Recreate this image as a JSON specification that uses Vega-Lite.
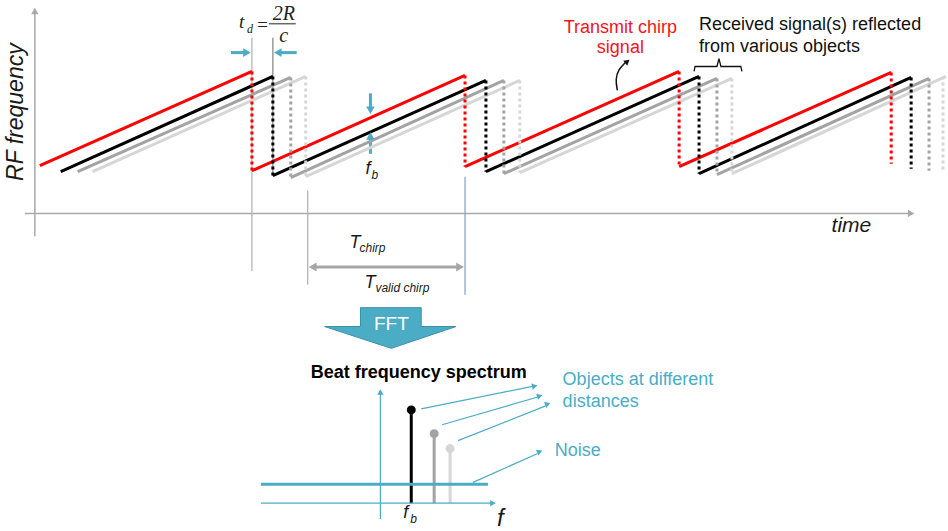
{
  "$schema": "https://vega.github.io/schema/vega-lite/v6.json",
  "width": 948,
  "height": 531,
  "autosize": {"type": "fit", "contains": "padding"},
  "padding": 0,
  "background": "white",
  "config": {"view": {"stroke": null}},
  "datasets": {
    "chirps": [
      {"series": "rx3", "part": "ramp", "x": 93, "y": 173, "x2": 307, "y2": 77},
      {"series": "rx3", "part": "ramp", "x": 307, "y": 178, "x2": 522, "y2": 81},
      {"series": "rx3", "part": "ramp", "x": 522, "y": 174, "x2": 735, "y2": 79},
      {"series": "rx3", "part": "ramp", "x": 735, "y": 175, "x2": 950, "y2": 77},
      {"series": "rx2", "part": "ramp", "x": 78, "y": 173, "x2": 292, "y2": 78},
      {"series": "rx2", "part": "ramp", "x": 292, "y": 179, "x2": 506, "y2": 81},
      {"series": "rx2", "part": "ramp", "x": 506, "y": 175, "x2": 720, "y2": 79},
      {"series": "rx2", "part": "ramp", "x": 720, "y": 176, "x2": 933, "y2": 79},
      {"series": "rx1", "part": "ramp", "x": 61, "y": 173, "x2": 274, "y2": 77},
      {"series": "rx1", "part": "ramp", "x": 274, "y": 177, "x2": 488, "y2": 81},
      {"series": "rx1", "part": "ramp", "x": 488, "y": 173, "x2": 702, "y2": 77},
      {"series": "rx1", "part": "ramp", "x": 702, "y": 175, "x2": 915, "y2": 78},
      {"series": "tx", "part": "ramp", "x": 40, "y": 167, "x2": 253, "y2": 72},
      {"series": "tx", "part": "ramp", "x": 253, "y": 172, "x2": 467, "y2": 76},
      {"series": "tx", "part": "ramp", "x": 467, "y": 168, "x2": 682, "y2": 72},
      {"series": "tx", "part": "ramp", "x": 682, "y": 168, "x2": 895, "y2": 73},
      {"series": "rx3", "part": "fly", "x": 307, "y": 77, "x2": 307, "y2": 178},
      {"series": "rx3", "part": "fly", "x": 522, "y": 81, "x2": 522, "y2": 174},
      {"series": "rx3", "part": "fly", "x": 735, "y": 79, "x2": 735, "y2": 175},
      {"series": "rx3", "part": "fly", "x": 947, "y": 77, "x2": 947, "y2": 172},
      {"series": "rx2", "part": "fly", "x": 292, "y": 78, "x2": 292, "y2": 179},
      {"series": "rx2", "part": "fly", "x": 506, "y": 81, "x2": 506, "y2": 175},
      {"series": "rx2", "part": "fly", "x": 720, "y": 79, "x2": 720, "y2": 176},
      {"series": "rx2", "part": "fly", "x": 933, "y": 79, "x2": 933, "y2": 172},
      {"series": "rx1", "part": "fly", "x": 274, "y": 77, "x2": 274, "y2": 177},
      {"series": "rx1", "part": "fly", "x": 488, "y": 81, "x2": 488, "y2": 173},
      {"series": "rx1", "part": "fly", "x": 702, "y": 77, "x2": 702, "y2": 175},
      {"series": "rx1", "part": "fly", "x": 915, "y": 78, "x2": 915, "y2": 170},
      {"series": "tx", "part": "fly", "x": 253, "y": 72, "x2": 253, "y2": 172},
      {"series": "tx", "part": "fly", "x": 467, "y": 76, "x2": 467, "y2": 168},
      {"series": "tx", "part": "fly", "x": 682, "y": 72, "x2": 682, "y2": 168},
      {"series": "tx", "part": "fly", "x": 895, "y": 73, "x2": 895, "y2": 165}
    ],
    "guides": [
      {"kind": "axis", "x": 35, "y": 238, "x2": 35, "y2": 12},
      {"kind": "axis", "x": 25, "y": 215, "x2": 913, "y2": 215},
      {"kind": "marker", "x": 253, "y": 38, "x2": 253, "y2": 273},
      {"kind": "marker", "x": 309, "y": 192, "x2": 309, "y2": 287},
      {"kind": "marker-rx", "x": 274, "y": 38, "x2": 274, "y2": 177},
      {"kind": "marker-end", "x": 467, "y": 178, "x2": 467, "y2": 297},
      {"kind": "period", "x": 316, "y": 269, "x2": 460, "y2": 269},
      {"kind": "cyan-bold", "x": 232, "y": 53, "x2": 246, "y2": 53},
      {"kind": "cyan-bold", "x": 298, "y": 53, "x2": 281, "y2": 53},
      {"kind": "cyan-bold", "x": 372, "y": 94, "x2": 372, "y2": 109},
      {"kind": "cyan-bold", "x": 372, "y": 155, "x2": 372, "y2": 139},
      {"kind": "cyan-thin", "x": 382, "y": 523, "x2": 382, "y2": 397},
      {"kind": "cyan-thin", "x": 262, "y": 507, "x2": 494, "y2": 507},
      {"kind": "cyan-thin", "x": 423, "y": 412, "x2": 536, "y2": 389},
      {"kind": "cyan-thin", "x": 444, "y": 428, "x2": 540, "y2": 400},
      {"kind": "cyan-thin", "x": 460, "y": 444, "x2": 548, "y2": 409},
      {"kind": "cyan-thin", "x": 475, "y": 486, "x2": 540, "y2": 457},
      {"kind": "fraction", "x": 270, "y": 24, "x2": 297, "y2": 24}
    ],
    "noise": [
      {"kind": "cyan-bold", "x": 262, "y": 488, "x2": 490, "y2": 488}
    ],
    "heads": [
      {"kind": "axis", "x": 35, "y": 11, "angle": 0},
      {"kind": "axis", "x": 915, "y": 215, "angle": 90},
      {"kind": "period", "x": 314, "y": 269, "angle": 270},
      {"kind": "period", "x": 462, "y": 269, "angle": 90},
      {"kind": "cyan-bold", "x": 248, "y": 53, "angle": 90},
      {"kind": "cyan-bold", "x": 279, "y": 53, "angle": 270},
      {"kind": "cyan-bold", "x": 372, "y": 111, "angle": 180},
      {"kind": "cyan-bold", "x": 372, "y": 137, "angle": 0},
      {"kind": "cyan-thin", "x": 382, "y": 395, "angle": 0},
      {"kind": "cyan-thin", "x": 495, "y": 507, "angle": 90},
      {"kind": "cyan-thin", "x": 537, "y": 389, "angle": 78},
      {"kind": "cyan-thin", "x": 542, "y": 399, "angle": 73},
      {"kind": "cyan-thin", "x": 550, "y": 407, "angle": 68},
      {"kind": "cyan-thin", "x": 542, "y": 455, "angle": 65},
      {"kind": "curve", "x": 630, "y": 62, "angle": 50}
    ],
    "paths": [
      {"path": "brace", "kind": "curve", "o": 1, "x": 697, "y": 72},
      {"path": "brace", "kind": "curve", "o": 2, "x": 698, "y": 67},
      {"path": "brace", "kind": "curve", "o": 3, "x": 720, "y": 67},
      {"path": "brace", "kind": "curve", "o": 4, "x": 722, "y": 59},
      {"path": "brace", "kind": "curve", "o": 5, "x": 724, "y": 67},
      {"path": "brace", "kind": "curve", "o": 6, "x": 744, "y": 67},
      {"path": "brace", "kind": "curve", "o": 7, "x": 745, "y": 72},
      {"path": "bend", "kind": "curve", "o": 1, "x": 620, "y": 91},
      {"path": "bend", "kind": "curve", "o": 2, "x": 618, "y": 80},
      {"path": "bend", "kind": "curve", "o": 3, "x": 621, "y": 70},
      {"path": "bend", "kind": "curve", "o": 4, "x": 628, "y": 63}
    ],
    "peaks": [
      {"series": "rx1", "x": 413, "y": 413, "y2": 507},
      {"series": "rx2", "x": 436, "y": 437, "y2": 507},
      {"series": "rx3", "x": 452, "y": 452, "y2": 507}
    ],
    "fftShaft": [{"x": 362, "x2": 423, "y": 310, "y2": 330}],
    "fftHead": [
      {"x": 326, "y": 329, "y2": 329},
      {"x": 393, "y": 351, "y2": 329},
      {"x": 458, "y": 329, "y2": 329}
    ],
    "fftOutline": [
      {"o": 1, "x": 362, "y": 310},
      {"o": 2, "x": 423, "y": 310},
      {"o": 3, "x": 423, "y": 329},
      {"o": 4, "x": 458, "y": 329},
      {"o": 5, "x": 393, "y": 351},
      {"o": 6, "x": 326, "y": 329},
      {"o": 7, "x": 362, "y": 329},
      {"o": 8, "x": 362, "y": 310}
    ],
    "labels": [
      {"g": "ytitle", "t": "RF frequency", "x": 16, "y": 113},
      {"g": "xtitle", "t": "time", "x": 855, "y": 234},
      {"g": "tx", "t": "Transmit chirp", "x": 623, "y": 33},
      {"g": "tx", "t": "signal", "x": 623, "y": 53},
      {"g": "rx", "t": "Received signal(s) reflected", "x": 702, "y": 30},
      {"g": "rx", "t": "from various objects", "x": 702, "y": 52},
      {"g": "serif", "t": "t", "x": 240, "y": 28},
      {"g": "serifsub", "t": "d", "x": 248, "y": 33},
      {"g": "serif", "t": "=", "x": 257, "y": 31},
      {"g": "frac", "t": "2R", "x": 285, "y": 20},
      {"g": "frac", "t": "c", "x": 285, "y": 42},
      {"g": "sym", "t": "f", "x": 367, "y": 175},
      {"g": "symsub", "t": "b", "x": 373, "y": 180},
      {"g": "sym", "t": "T", "x": 351, "y": 250},
      {"g": "symsub", "t": "chirp", "x": 361, "y": 254},
      {"g": "sym", "t": "T", "x": 366, "y": 290},
      {"g": "symsub", "t": "valid chirp", "x": 377, "y": 294},
      {"g": "fft", "t": "FFT", "x": 393, "y": 333},
      {"g": "title", "t": "Beat frequency spectrum", "x": 312, "y": 381},
      {"g": "callout", "t": "Objects at different", "x": 565, "y": 388},
      {"g": "callout", "t": "distances", "x": 565, "y": 410},
      {"g": "callout", "t": "Noise", "x": 557, "y": 459},
      {"g": "sym", "t": "f", "x": 405, "y": 522},
      {"g": "symsub", "t": "b", "x": 412, "y": 527},
      {"g": "faxis", "t": "f", "x": 499, "y": 530}
    ]
  },
  "resolve": {"scale": {"color": "independent", "size": "independent", "strokeWidth": "independent"}},
  "layer": [
    {
      "data": {"name": "peaks"},
      "mark": {"type": "rule", "strokeWidth": 3},
      "encoding": {
        "x": {"field": "x", "type": "quantitative", "scale": {"domain": [0, 948], "nice": false, "zero": false}, "axis": null},
        "y": {"field": "y", "type": "quantitative", "scale": {"domain": [0, 531], "nice": false, "zero": false, "reverse": true}, "axis": null},
        "y2": {"field": "y2"},
        "color": {"field": "series", "type": "nominal", "scale": {"domain": ["rx1", "rx2", "rx3"], "range": ["#000000", "#a3a3a3", "#d6d6d6"]}, "legend": null}
      }
    },
    {
      "data": {"name": "peaks"},
      "mark": {"type": "point", "shape": "circle", "filled": true, "size": 80, "opacity": 1},
      "encoding": {
        "x": {"field": "x", "type": "quantitative", "scale": {"domain": [0, 948], "nice": false, "zero": false}, "axis": null},
        "y": {"field": "y", "type": "quantitative", "scale": {"domain": [0, 531], "nice": false, "zero": false, "reverse": true}, "axis": null},
        "color": {"field": "series", "type": "nominal", "scale": {"domain": ["rx1", "rx2", "rx3"], "range": ["#000000", "#a3a3a3", "#d6d6d6"]}, "legend": null}
      }
    },
    {
      "data": {"name": "guides"},
      "mark": {"type": "rule"},
      "encoding": {
        "x": {"field": "x", "type": "quantitative", "scale": {"domain": [0, 948], "nice": false, "zero": false}, "axis": null},
        "y": {"field": "y", "type": "quantitative", "scale": {"domain": [0, 531], "nice": false, "zero": false, "reverse": true}, "axis": null},
        "x2": {"field": "x2"},
        "y2": {"field": "y2"},
        "color": {"field": "kind", "type": "nominal", "scale": {"domain": ["axis", "marker", "marker-rx", "marker-end", "period", "cyan-bold", "cyan-thin", "fraction"], "range": ["#a9a9a9", "#b5b5b5", "#8c8c8c", "#8ea2c6", "#a6a6a6", "#4bacc6", "#4bacc6", "#222222"]}, "legend": null},
        "strokeWidth": {"field": "kind", "type": "ordinal", "scale": {"type": "ordinal", "domain": ["axis", "marker", "marker-rx", "marker-end", "period", "cyan-bold", "cyan-thin", "fraction"], "range": [1.5, 1.3, 1.3, 1.3, 3, 3, 1.2, 1]}, "legend": null}
      }
    },
    {
      "data": {"name": "noise"},
      "mark": {"type": "rule", "strokeWidth": 3, "color": "#4bacc6"},
      "encoding": {
        "x": {"field": "x", "type": "quantitative", "scale": {"domain": [0, 948], "nice": false, "zero": false}, "axis": null},
        "y": {"field": "y", "type": "quantitative", "scale": {"domain": [0, 531], "nice": false, "zero": false, "reverse": true}, "axis": null},
        "x2": {"field": "x2"},
        "y2": {"field": "y2"}
      }
    },
    {
      "data": {"name": "chirps"},
      "transform": [{"filter": "datum.part === 'ramp'"}],
      "mark": {"type": "rule", "strokeWidth": 3, "strokeCap": "butt"},
      "encoding": {
        "x": {"field": "x", "type": "quantitative", "scale": {"domain": [0, 948], "nice": false, "zero": false}, "axis": null},
        "y": {"field": "y", "type": "quantitative", "scale": {"domain": [0, 531], "nice": false, "zero": false, "reverse": true}, "axis": null},
        "x2": {"field": "x2"},
        "y2": {"field": "y2"},
        "color": {"field": "series", "type": "nominal", "scale": {"domain": ["tx", "rx1", "rx2", "rx3"], "range": ["#ff0000", "#000000", "#a3a3a3", "#d6d6d6"]}, "legend": null}
      }
    },
    {
      "data": {"name": "chirps"},
      "transform": [{"filter": "datum.part === 'fly'"}],
      "mark": {"type": "rule", "strokeWidth": 3, "strokeCap": "butt", "strokeDash": [3, 3]},
      "encoding": {
        "x": {"field": "x", "type": "quantitative", "scale": {"domain": [0, 948], "nice": false, "zero": false}, "axis": null},
        "y": {"field": "y", "type": "quantitative", "scale": {"domain": [0, 531], "nice": false, "zero": false, "reverse": true}, "axis": null},
        "x2": {"field": "x2"},
        "y2": {"field": "y2"},
        "color": {"field": "series", "type": "nominal", "scale": {"domain": ["tx", "rx1", "rx2", "rx3"], "range": ["#ff0000", "#000000", "#a3a3a3", "#d6d6d6"]}, "legend": null}
      }
    },
    {
      "data": {"name": "paths"},
      "transform": [{"filter": "datum.path === 'brace'"}],
      "mark": {"type": "line", "strokeWidth": 1.3, "color": "#111111"},
      "encoding": {
        "x": {"field": "x", "type": "quantitative", "scale": {"domain": [0, 948], "nice": false, "zero": false}, "axis": null},
        "y": {"field": "y", "type": "quantitative", "scale": {"domain": [0, 531], "nice": false, "zero": false, "reverse": true}, "axis": null},
        "order": {"field": "o", "type": "quantitative"}
      }
    },
    {
      "data": {"name": "paths"},
      "transform": [{"filter": "datum.path === 'bend'"}],
      "mark": {"type": "line", "strokeWidth": 1.5, "color": "#111111", "interpolate": "basis"},
      "encoding": {
        "x": {"field": "x", "type": "quantitative", "scale": {"domain": [0, 948], "nice": false, "zero": false}, "axis": null},
        "y": {"field": "y", "type": "quantitative", "scale": {"domain": [0, 531], "nice": false, "zero": false, "reverse": true}, "axis": null},
        "order": {"field": "o", "type": "quantitative"}
      }
    },
    {
      "data": {"name": "heads"},
      "mark": {"type": "point", "shape": "triangle-up", "filled": true, "opacity": 1},
      "encoding": {
        "x": {"field": "x", "type": "quantitative", "scale": {"domain": [0, 948], "nice": false, "zero": false}, "axis": null},
        "y": {"field": "y", "type": "quantitative", "scale": {"domain": [0, 531], "nice": false, "zero": false, "reverse": true}, "axis": null},
        "angle": {"field": "angle", "type": "quantitative", "scale": null},
        "color": {"field": "kind", "type": "nominal", "scale": {"domain": ["axis", "period", "cyan-bold", "cyan-thin", "curve"], "range": ["#a9a9a9", "#a6a6a6", "#4bacc6", "#4bacc6", "#111111"]}, "legend": null},
        "size": {"field": "kind", "type": "ordinal", "scale": {"type": "ordinal", "domain": ["axis", "period", "cyan-bold", "cyan-thin", "curve"], "range": [55, 80, 75, 40, 40]}, "legend": null}
      }
    },
    {
      "data": {"name": "fftShaft"},
      "mark": {"type": "rect", "color": "#4bacc6"},
      "encoding": {
        "x": {"field": "x", "type": "quantitative", "scale": {"domain": [0, 948], "nice": false, "zero": false}, "axis": null},
        "y": {"field": "y", "type": "quantitative", "scale": {"domain": [0, 531], "nice": false, "zero": false, "reverse": true}, "axis": null},
        "x2": {"field": "x2"},
        "y2": {"field": "y2"}
      }
    },
    {
      "data": {"name": "fftHead"},
      "mark": {"type": "area", "color": "#4bacc6", "orient": "vertical", "opacity": 1},
      "encoding": {
        "x": {"field": "x", "type": "quantitative", "scale": {"domain": [0, 948], "nice": false, "zero": false}, "axis": null},
        "y": {"field": "y", "type": "quantitative", "scale": {"domain": [0, 531], "nice": false, "zero": false, "reverse": true}, "axis": null},
        "y2": {"field": "y2"}
      }
    },
    {
      "data": {"name": "fftOutline"},
      "mark": {"type": "line", "strokeWidth": 1, "color": "#3b8fa8"},
      "encoding": {
        "x": {"field": "x", "type": "quantitative", "scale": {"domain": [0, 948], "nice": false, "zero": false}, "axis": null},
        "y": {"field": "y", "type": "quantitative", "scale": {"domain": [0, 531], "nice": false, "zero": false, "reverse": true}, "axis": null},
        "order": {"field": "o", "type": "quantitative"}
      }
    },
    {
      "data": {"name": "labels"},
      "transform": [{"filter": "datum.g === 'ytitle'"}],
      "mark": {"type": "text", "font": "Liberation Sans", "fontSize": 23, "fontStyle": "italic", "fill": "#1a1a1a", "align": "center", "baseline": "middle", "angle": 270},
      "encoding": {
        "x": {"field": "x", "type": "quantitative", "scale": {"domain": [0, 948], "nice": false, "zero": false}, "axis": null},
        "y": {"field": "y", "type": "quantitative", "scale": {"domain": [0, 531], "nice": false, "zero": false, "reverse": true}, "axis": null},
        "text": {"field": "t"}
      }
    },
    {
      "data": {"name": "labels"},
      "transform": [{"filter": "datum.g === 'xtitle'"}],
      "mark": {"type": "text", "font": "Liberation Sans", "fontSize": 21, "fontStyle": "italic", "fill": "#1a1a1a", "align": "center", "baseline": "alphabetic"},
      "encoding": {
        "x": {"field": "x", "type": "quantitative", "scale": {"domain": [0, 948], "nice": false, "zero": false}, "axis": null},
        "y": {"field": "y", "type": "quantitative", "scale": {"domain": [0, 531], "nice": false, "zero": false, "reverse": true}, "axis": null},
        "text": {"field": "t"}
      }
    },
    {
      "data": {"name": "labels"},
      "transform": [{"filter": "datum.g === 'tx'"}],
      "mark": {"type": "text", "font": "Liberation Sans", "fontSize": 18, "fill": "#f2141c", "align": "center", "baseline": "alphabetic"},
      "encoding": {
        "x": {"field": "x", "type": "quantitative", "scale": {"domain": [0, 948], "nice": false, "zero": false}, "axis": null},
        "y": {"field": "y", "type": "quantitative", "scale": {"domain": [0, 531], "nice": false, "zero": false, "reverse": true}, "axis": null},
        "text": {"field": "t"}
      }
    },
    {
      "data": {"name": "labels"},
      "transform": [{"filter": "datum.g === 'rx'"}],
      "mark": {"type": "text", "font": "Liberation Sans", "fontSize": 18, "fill": "#111111", "align": "left", "baseline": "alphabetic"},
      "encoding": {
        "x": {"field": "x", "type": "quantitative", "scale": {"domain": [0, 948], "nice": false, "zero": false}, "axis": null},
        "y": {"field": "y", "type": "quantitative", "scale": {"domain": [0, 531], "nice": false, "zero": false, "reverse": true}, "axis": null},
        "text": {"field": "t"}
      }
    },
    {
      "data": {"name": "labels"},
      "transform": [{"filter": "datum.g === 'serif'"}],
      "mark": {"type": "text", "font": "Liberation Serif", "fontSize": 19, "fontStyle": "italic", "fill": "#222222", "align": "left", "baseline": "alphabetic"},
      "encoding": {
        "x": {"field": "x", "type": "quantitative", "scale": {"domain": [0, 948], "nice": false, "zero": false}, "axis": null},
        "y": {"field": "y", "type": "quantitative", "scale": {"domain": [0, 531], "nice": false, "zero": false, "reverse": true}, "axis": null},
        "text": {"field": "t"}
      }
    },
    {
      "data": {"name": "labels"},
      "transform": [{"filter": "datum.g === 'serifsub'"}],
      "mark": {"type": "text", "font": "Liberation Serif", "fontSize": 12, "fontStyle": "italic", "fill": "#222222", "align": "left", "baseline": "alphabetic"},
      "encoding": {
        "x": {"field": "x", "type": "quantitative", "scale": {"domain": [0, 948], "nice": false, "zero": false}, "axis": null},
        "y": {"field": "y", "type": "quantitative", "scale": {"domain": [0, 531], "nice": false, "zero": false, "reverse": true}, "axis": null},
        "text": {"field": "t"}
      }
    },
    {
      "data": {"name": "labels"},
      "transform": [{"filter": "datum.g === 'frac'"}],
      "mark": {"type": "text", "font": "Liberation Serif", "fontSize": 20, "fontStyle": "italic", "fill": "#222222", "align": "center", "baseline": "alphabetic"},
      "encoding": {
        "x": {"field": "x", "type": "quantitative", "scale": {"domain": [0, 948], "nice": false, "zero": false}, "axis": null},
        "y": {"field": "y", "type": "quantitative", "scale": {"domain": [0, 531], "nice": false, "zero": false, "reverse": true}, "axis": null},
        "text": {"field": "t"}
      }
    },
    {
      "data": {"name": "labels"},
      "transform": [{"filter": "datum.g === 'sym'"}],
      "mark": {"type": "text", "font": "Liberation Sans", "fontSize": 18, "fontStyle": "italic", "fill": "#1a1a1a", "align": "left", "baseline": "alphabetic"},
      "encoding": {
        "x": {"field": "x", "type": "quantitative", "scale": {"domain": [0, 948], "nice": false, "zero": false}, "axis": null},
        "y": {"field": "y", "type": "quantitative", "scale": {"domain": [0, 531], "nice": false, "zero": false, "reverse": true}, "axis": null},
        "text": {"field": "t"}
      }
    },
    {
      "data": {"name": "labels"},
      "transform": [{"filter": "datum.g === 'symsub'"}],
      "mark": {"type": "text", "font": "Liberation Sans", "fontSize": 12, "fontStyle": "italic", "fill": "#1a1a1a", "align": "left", "baseline": "alphabetic"},
      "encoding": {
        "x": {"field": "x", "type": "quantitative", "scale": {"domain": [0, 948], "nice": false, "zero": false}, "axis": null},
        "y": {"field": "y", "type": "quantitative", "scale": {"domain": [0, 531], "nice": false, "zero": false, "reverse": true}, "axis": null},
        "text": {"field": "t"}
      }
    },
    {
      "data": {"name": "labels"},
      "transform": [{"filter": "datum.g === 'faxis'"}],
      "mark": {"type": "text", "font": "Liberation Sans", "fontSize": 24, "fontStyle": "italic", "fill": "#1a1a1a", "align": "left", "baseline": "alphabetic"},
      "encoding": {
        "x": {"field": "x", "type": "quantitative", "scale": {"domain": [0, 948], "nice": false, "zero": false}, "axis": null},
        "y": {"field": "y", "type": "quantitative", "scale": {"domain": [0, 531], "nice": false, "zero": false, "reverse": true}, "axis": null},
        "text": {"field": "t"}
      }
    },
    {
      "data": {"name": "labels"},
      "transform": [{"filter": "datum.g === 'fft'"}],
      "mark": {"type": "text", "font": "Liberation Sans", "fontSize": 19, "fill": "#ffffff", "align": "center", "baseline": "alphabetic"},
      "encoding": {
        "x": {"field": "x", "type": "quantitative", "scale": {"domain": [0, 948], "nice": false, "zero": false}, "axis": null},
        "y": {"field": "y", "type": "quantitative", "scale": {"domain": [0, 531], "nice": false, "zero": false, "reverse": true}, "axis": null},
        "text": {"field": "t"}
      }
    },
    {
      "data": {"name": "labels"},
      "transform": [{"filter": "datum.g === 'title'"}],
      "mark": {"type": "text", "font": "Liberation Sans", "fontSize": 18, "fontWeight": "bold", "fill": "#000000", "align": "left", "baseline": "alphabetic"},
      "encoding": {
        "x": {"field": "x", "type": "quantitative", "scale": {"domain": [0, 948], "nice": false, "zero": false}, "axis": null},
        "y": {"field": "y", "type": "quantitative", "scale": {"domain": [0, 531], "nice": false, "zero": false, "reverse": true}, "axis": null},
        "text": {"field": "t"}
      }
    },
    {
      "data": {"name": "labels"},
      "transform": [{"filter": "datum.g === 'callout'"}],
      "mark": {"type": "text", "font": "Liberation Sans", "fontSize": 18, "fill": "#4bacc6", "align": "left", "baseline": "alphabetic"},
      "encoding": {
        "x": {"field": "x", "type": "quantitative", "scale": {"domain": [0, 948], "nice": false, "zero": false}, "axis": null},
        "y": {"field": "y", "type": "quantitative", "scale": {"domain": [0, 531], "nice": false, "zero": false, "reverse": true}, "axis": null},
        "text": {"field": "t"}
      }
    }
  ]
}
